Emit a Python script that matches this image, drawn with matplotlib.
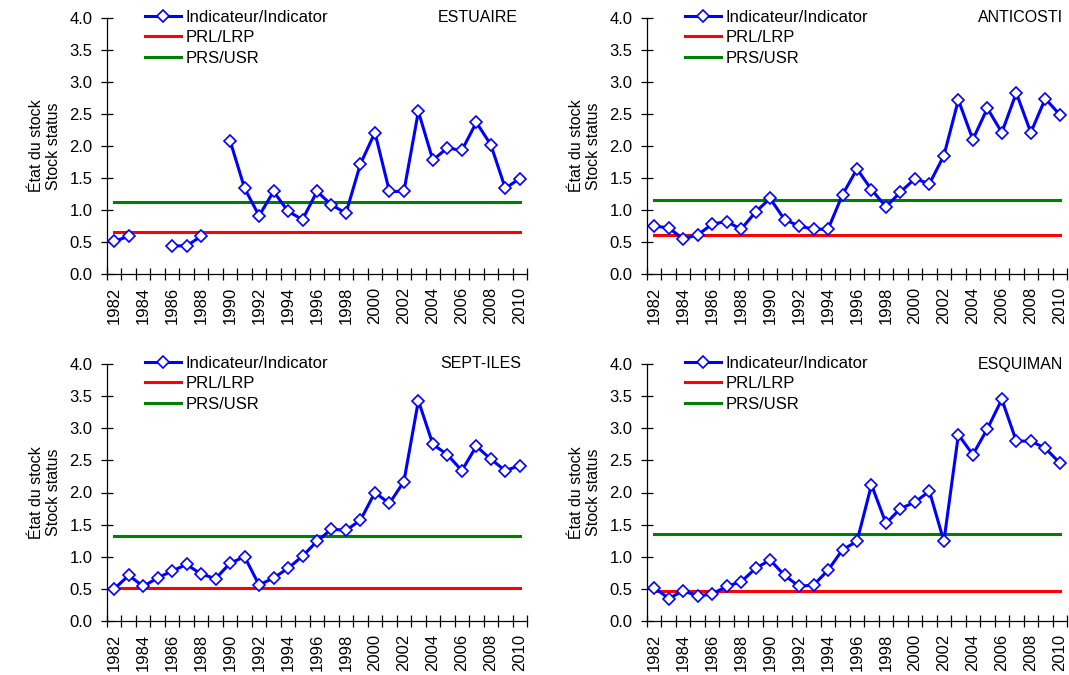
import numpy as np
import matplotlib
matplotlib.use("Agg")
import matplotlib.pyplot as plt
from matplotlib.ticker import MultipleLocator, FixedLocator, FormatStrFormatter

plt.rcParams['font.family'] = ['Liberation Sans', 'DejaVu Sans']

years = list(range(1982, 2011))
nan = np.nan

estuaire = [0.51, 0.59, nan, nan, 0.44, 0.44, 0.59, nan, 2.08, 1.34,
            0.91, 1.29, 0.98, 0.85, 1.29, 1.08, 0.95, 1.72, 2.21, 1.29,
            1.29, 2.54, 1.78, 1.97, 1.93, 2.37, 2.02, 1.34, 1.49]
anticosti = [0.75, 0.72, 0.55, 0.61, 0.78, 0.82, 0.70, 0.97, 1.18, 0.85,
             0.75, 0.70, 0.70, 1.24, 1.64, 1.32, 1.05, 1.28, 1.49, 1.41,
             1.85, 2.72, 2.10, 2.59, 2.21, 2.83, 2.21, 2.74, 2.49]
septiles = [0.50, 0.71, 0.54, 0.67, 0.78, 0.88, 0.73, 0.66, 0.90, 1.00,
            0.56, 0.67, 0.82, 1.01, 1.24, 1.43, 1.41, 1.57, 2.00, 1.83,
            2.17, 3.43, 2.75, 2.59, 2.34, 2.72, 2.52, 2.34, 2.42]
esquiman = [0.52, 0.35, 0.47, 0.39, 0.42, 0.54, 0.61, 0.82, 0.95, 0.71,
            0.54, 0.56, 0.79, 1.11, 1.24, 2.12, 1.52, 1.75, 1.85, 2.02,
            1.24, 2.90, 2.59, 2.99, 3.45, 2.80, 2.80, 2.69, 2.46]

names = ["ESTUAIRE", "ANTICOSTI", "SEPT-ILES", "ESQUIMAN"]
series = [estuaire, anticosti, septiles, esquiman]
prl = [0.66, 0.61, 0.52, 0.46]
prs = [1.13, 1.16, 1.32, 1.35]

legend_labels = ["Indicateur/Indicator", "PRL/LRP", "PRS/USR"]
ylabel = "État du stock\nStock status"

W, H = 1069, 675
fig = plt.figure(figsize=(W / 100, H / 100), dpi=100)

# axes boxes in pixels: left, top, right, bottom
boxes = [(107, 18, 527, 274), (647, 18, 1067, 274),
         (107, 364, 527, 621), (647, 364, 1067, 621)]
name_x = [0.978, 0.99, 0.987, 0.99]

for (l, t, r, b), name, vals, p1, p2, nx in zip(boxes, names, series, prl, prs, name_x):
    ax = fig.add_axes([l / W, 1 - b / H, (r - l) / W, (b - t) / H])
    ax.plot(years, [p1] * len(years), color='#FF0000', lw=2.2, zorder=2)
    ax.plot(years, [p2] * len(years), color='#008000', lw=2.2, zorder=2)
    ln, = ax.plot(years, vals, color='#0000FF', lw=2.2, marker='D', ms=6,
                  mfc='white', mec='#0000FF', mew=1.2, zorder=3)
    ax.set_xlim(1981.5, 2010.5)
    ax.set_ylim(0, 4.0)
    ax.yaxis.set_major_locator(MultipleLocator(0.5))
    ax.yaxis.set_major_formatter(FormatStrFormatter('%.1f'))
    ax.set_xticks(years[::2])
    ax.set_xticklabels([str(y) for y in years[::2]], rotation=90, fontsize=12)
    ax.xaxis.set_minor_locator(FixedLocator(np.arange(1981.5, 2011, 1.0)))
    ax.tick_params(axis='x', which='major', length=0, pad=9)
    ax.tick_params(axis='x', which='minor', length=8, direction='inout', width=0.9)
    ax.tick_params(axis='y', which='major', length=8, direction='inout', width=0.9,
                   labelsize=12, pad=6.5)
    for s in ['top', 'right']:
        ax.spines[s].set_visible(False)
    for s in ['left', 'bottom']:
        ax.spines[s].set_linewidth(0.9)
    ax.set_ylabel(ylabel, fontsize=11.5, labelpad=6)
    handles = [ln, ax.lines[0], ax.lines[1]]
    ax.legend(handles, legend_labels, loc='upper left', bbox_to_anchor=(0.09, 1.032),
              frameon=False, fontsize=12, handlelength=2.2, handletextpad=0.25,
              labelspacing=0.33, borderaxespad=0, borderpad=0)
    ax.text(nx, 1.0, name, transform=ax.transAxes, ha='right', va='center',
            fontsize=11.5)

fig.savefig("out.png", dpi=100)
